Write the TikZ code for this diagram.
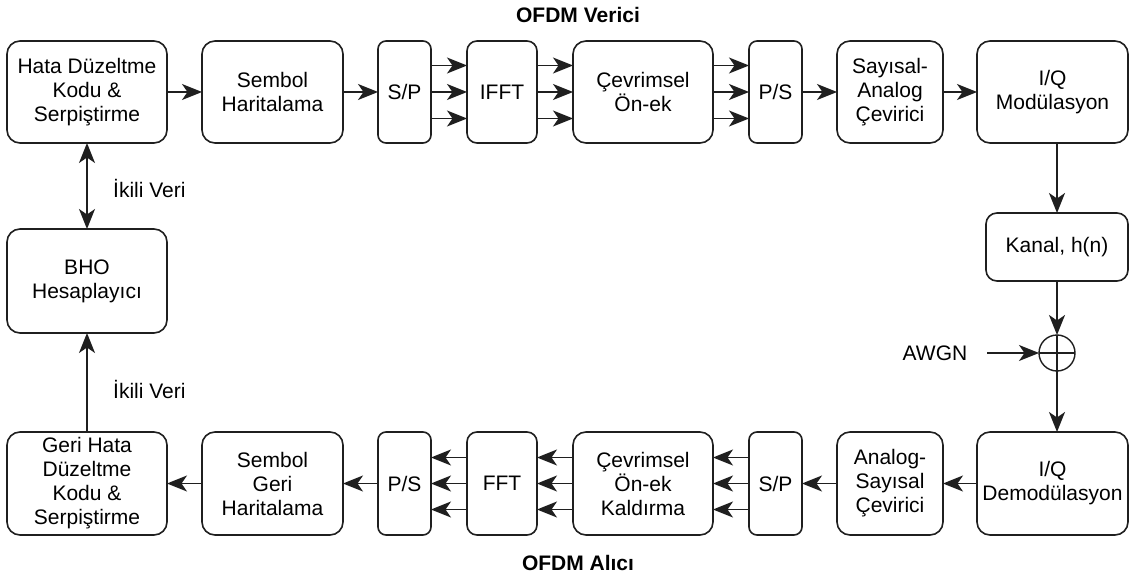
\documentclass[tikz,border=0pt]{standalone}
\usepackage{fontspec}
\setmainfont{Liberation Sans}
\usetikzlibrary{arrows.meta}
\begin{document}
\begin{tikzpicture}[x=1pt,y=-1pt,
  lbl/.style={font=\fontsize{21}{24}\selectfont, inner sep=0pt},
  blk/.style={draw=black!88, line width=1.6pt, rounded corners=13pt, align=center,
    inner sep=0pt, outer sep=0pt, font=\fontsize{21}{24}\selectfont},
  narrow/.style={blk, rounded corners=8pt, minimum width=53pt, minimum height=102pt},
  title/.style={font=\fontsize{21}{24}\selectfont\bfseries, inner sep=0pt},
  arr/.style={line width=1.6pt, draw=black!88, arrows={-Stealth[length=20pt,width=16pt,inset=5.5pt]}},
  darr/.style={line width=1.6pt, draw=black!88, arrows={Stealth[length=20pt,width=16pt,inset=5.5pt]-Stealth[length=20pt,width=16pt,inset=5.5pt]}}]
\useasboundingbox[fill=white] (0,0) rectangle (1130,575);

% titles
\node[title] (ttx) at (578,15) {OFDM Verici};
\node[title] (trx) at (578,563) {OFDM Alıcı};

% transmitter chain
\node[blk, minimum width=160pt, minimum height=102pt] (hdk) at (87,92) {Hata Düzeltme\\Kodu \&\\Serpiştirme};
\node[blk, minimum width=141pt, minimum height=102pt] (sh) at (272.5,92) {Sembol\\Haritalama};
\node[narrow] (sp1) at (404.5,92) {S/P};
\node[blk, rounded corners=10pt, minimum width=70pt, minimum height=102pt] (ifft) at (502,92) {IFFT};
\node[blk, minimum width=140pt, minimum height=102pt] (cp) at (643,92) {Çevrimsel\\Ön-ek};
\node[narrow] (ps1) at (775.5,92) {P/S};
\node[blk, minimum width=106pt, minimum height=102pt] (dac) at (890,92) {Sayısal-\\Analog\\Çevirici};
\node[blk, minimum width=151pt, minimum height=102pt] (iqm) at (1052.5,92) {I/Q\\Modülasyon};

% channel and noise
\node[blk, rounded corners=11pt, minimum width=142pt, minimum height=68pt] (kanal) at (1057,247) {Kanal, h(n)};
\node[draw=black!88, circle, line width=1.4pt, minimum size=36pt, inner sep=0pt, outer sep=0pt,
  path picture={\draw[line width=1.4pt, black!88]
    (path picture bounding box.north) -- (path picture bounding box.south)
    (path picture bounding box.west) -- (path picture bounding box.east);}] (sum) at (1057,353) {};
\node[lbl] (awgn) at (935,353) {AWGN};

% receiver chain
\node[blk, minimum width=151pt, minimum height=103pt] (iqd) at (1052.5,483.5) {I/Q\\Demodülasyon};
\node[blk, minimum width=106pt, minimum height=103pt] (adc) at (890,483.5) {Analog-\\Sayısal\\Çevirici};
\node[narrow, minimum height=103pt] (sp2) at (775.5,483.5) {S/P};
\node[blk, minimum width=140pt, minimum height=103pt] (cpr) at (643,483.5) {Çevrimsel\\Ön-ek\\Kaldırma};
\node[blk, rounded corners=10pt, minimum width=70pt, minimum height=103pt] (fft) at (502,483.5) {FFT};
\node[narrow, minimum height=103pt] (ps2) at (404.5,483.5) {P/S};
\node[blk, minimum width=141pt, minimum height=103pt] (sgh) at (272.5,483.5) {Sembol\\Geri\\Haritalama};
\node[blk, minimum width=160pt, minimum height=103pt] (ghdk) at (87,483.5) {Geri Hata\\Düzeltme\\Kodu \&\\Serpiştirme};

% bit error rate block
\node[blk, minimum width=160pt, minimum height=104pt] (bho) at (87,281) {BHO\\Hesaplayıcı};
\node[lbl, anchor=west] (iv1) at (113,188) {İkili Veri};
\node[lbl, anchor=west] (iv2) at (113,389) {İkili Veri};

% transmitter connections
\draw[arr] (hdk) -- (sh);
\draw[arr] (sh) -- (sp1);
\foreach \d in {-26.5,0,26.5}{
  \draw[arr] ([yshift=\d pt]sp1.east) -- ([yshift=\d pt]ifft.west);
  \draw[arr] ([yshift=\d pt]ifft.east) -- ([yshift=\d pt]cp.west);
  \draw[arr] ([yshift=\d pt]cp.east) -- ([yshift=\d pt]ps1.west);
}
\draw[arr] (ps1) -- (dac);
\draw[arr] (dac) -- (iqm);

% channel connections
\draw[arr] (iqm.south -| kanal.north) -- (kanal.north);
\draw[arr] (kanal.south) -- (sum.north);
\draw[arr, shorten <=20pt] (awgn.east) -- (sum.west);
\draw[arr] (sum.south) -- (iqd.north -| sum.south);

% receiver connections
\draw[arr] (iqd) -- (adc);
\draw[arr] (adc) -- (sp2);
\foreach \d in {-26,0,26}{
  \draw[arr] ([yshift=\d pt]sp2.west) -- ([yshift=\d pt]cpr.east);
  \draw[arr] ([yshift=\d pt]cpr.west) -- ([yshift=\d pt]fft.east);
  \draw[arr] ([yshift=\d pt]fft.west) -- ([yshift=\d pt]ps2.east);
}
\draw[arr] (ps2) -- (sgh);
\draw[arr] (sgh) -- (ghdk);

% binary data paths
\draw[darr] (hdk.south) -- (bho.north);
\draw[arr] (ghdk.north) -- (bho.south);
\end{tikzpicture}
\end{document}
